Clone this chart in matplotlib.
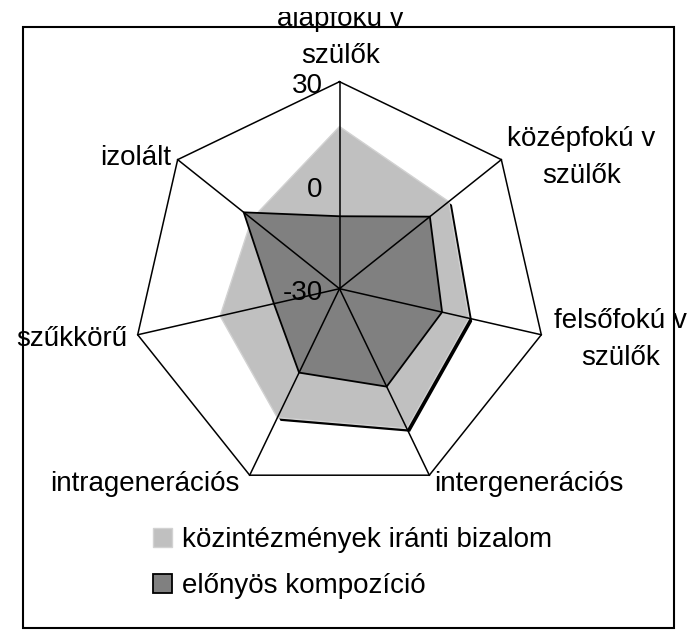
import numpy as np
import matplotlib
matplotlib.use('Agg')
import matplotlib.pyplot as plt
from matplotlib.patches import Rectangle, Patch
from matplotlib.transforms import Bbox, TransformedBbox
import matplotlib.patheffects as pe

# ---- data ----
categories = ['alapfokú v\nszülők', 'középfokú v\nszülők', 'felsőfokú v\nszülők',
              'intergenerációs', 'intragenerációs', 'szűkkörű', 'izolált']
trust = [17, 10.5, 8.5, 15, 11.5, 5.5, 2.5]            # közintézmények iránti bizalom
composition = [-9, 3.5, 0.5, 1.5, -3, -10.5, 5.5]      # előnyös kompozíció
series_names = ['közintézmények iránti bizalom', 'előnyös kompozíció']
r_ticks = [-30, 0, 30]

plt.rcParams['font.family'] = ['Liberation Sans', 'DejaVu Sans']
FS = 20
LIGHT = '#c0c0c0'
DARK = '#808080'

W, H = 692, 630
fig = plt.figure(figsize=(W / 100, H / 100), dpi=100)
fig.patch.set_facecolor('white')
cx, cy, R = 339.5, 288.7, 207
ax = fig.add_axes([(cx - R) / W, (H - cy - R) / H, 2 * R / W, 2 * R / H], projection='polar')
ax.set_theta_zero_location('N')
ax.set_theta_direction(-1)
ax.set_ylim(r_ticks[0], r_ticks[-1])
ax.set_axis_off()

n = len(categories)
theta = np.arange(n) * 2 * np.pi / n
theta_c = np.append(theta, theta[0])
trust_c = np.append(trust, trust[0])
comp_c = np.append(composition, composition[0])

# light series with drop shadow
ax.fill(theta_c, trust_c, facecolor=LIGHT, edgecolor='#d2d2d2', lw=1.0, zorder=2,
        clip_on=False,
        path_effects=[pe.SimplePatchShadow(offset=(2.3, -2.3), shadow_rgbFace='black', alpha=1.0),
                      pe.Normal()])
# dark series
ax.fill(theta_c, comp_c, facecolor=DARK, edgecolor='black', lw=1.3, zorder=3, clip_on=False)

# spokes and outer heptagon
for t in theta:
    ax.plot([t, t], [r_ticks[0], r_ticks[-1]], color='black', lw=1.1, zorder=4, clip_on=False)
ax.plot(theta_c, np.full(n + 1, r_ticks[-1]), color='black', lw=1.1, zorder=4, clip_on=False)

# radial tick labels along the top axis
for v in r_ticks:
    ax.annotate(str(v), xy=(0, v), xytext=(-17, -11.5), textcoords='offset pixels',
                ha='right', va='baseline', fontsize=FS, zorder=6, annotation_clip=False)

# category labels: (dx, dy, ha) offsets in pixels from the outer vertex
label_pos = [(1, 19, 'center'), (80, -23, 'center'), (79, -30, 'center'),
             (5, -16, 'left'), (-10, -16, 'right'), (-10.5, -11, 'right'), (-7, -5, 'right')]
for i, (lab, (dx, dy, ha)) in enumerate(zip(categories, label_pos)):
    t = ax.annotate(lab, xy=(theta[i], r_ticks[-1]), xytext=(dx, dy), textcoords='offset pixels',
                    ha=ha, va='baseline', fontsize=FS, linespacing=1.55, multialignment='center',
                    annotation_clip=False, zorder=6)
    t.set_clip_path(None)
    if i == 0:
        t.set_clip_box(TransformedBbox(Bbox([[0, 0], [1, 1 - 12 / H]]), fig.transFigure))
        t.set_clip_on(True)
    else:
        t.set_clip_on(False)

# legend
handles = [Patch(facecolor=LIGHT, edgecolor='#d2d2d2', lw=1.0),
           Patch(facecolor=DARK, edgecolor='black', lw=1.3)]
fig.legend(handles=handles, labels=series_names, loc='upper left',
           bbox_to_anchor=(153 / W, 1 - 527 / H), frameon=False, fontsize=FS,
           handlelength=0.68, handleheight=0.68, handletextpad=0.36,
           labelspacing=0.73, borderpad=0, borderaxespad=0)

# outer chart frame
fig.add_artist(Rectangle((23 / W, 1 - 628 / H), (674 - 23) / W, (628 - 27) / H,
                         transform=fig.transFigure, fill=False, edgecolor='black',
                         lw=1.5, zorder=5))

fig.savefig('out.png', dpi=100, facecolor='white')
